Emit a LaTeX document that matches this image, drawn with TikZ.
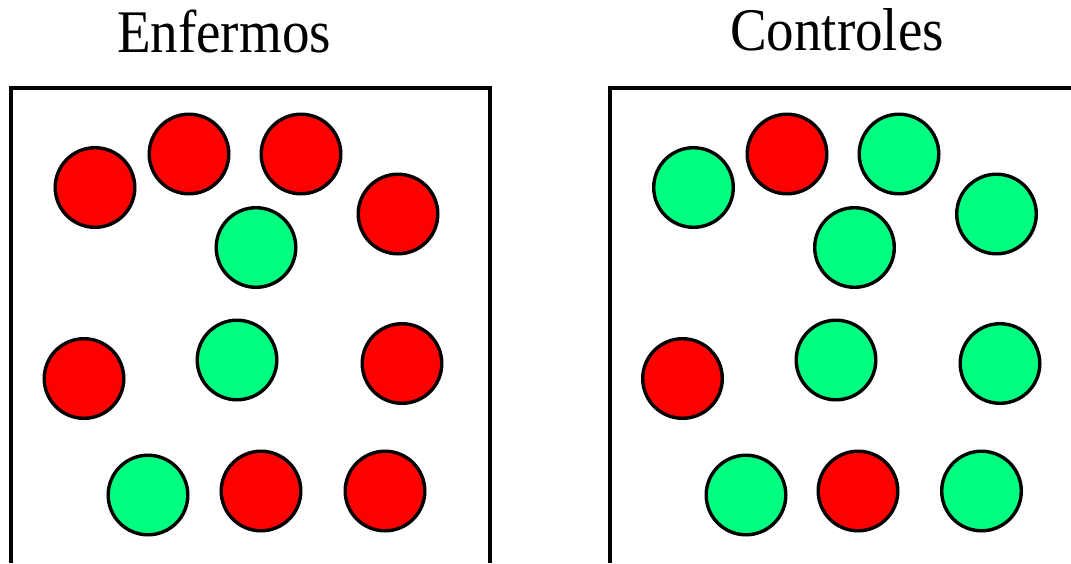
\documentclass[tikz,border=0pt]{standalone}
\usepackage{fontspec}
\setmainfont{Liberation Serif}
\definecolor{sick}{RGB}{255,0,0}
\definecolor{healthy}{RGB}{0,255,128}
\begin{document}
\begin{tikzpicture}[x=1pt,y=-1pt,
  ball/.style={circle,draw=black,line width=3.4pt,inner sep=0pt,minimum size=79.6pt},
  redball/.style={ball,fill=sick},
  greenball/.style={ball,fill=healthy},
  frame/.style={line width=3.6pt},
  title/.style={inner sep=0pt,anchor=base,font=\fontsize{55}{60}\selectfont}]
\useasboundingbox (0,0) rectangle (1071,563);
% titles
\node[title] (t1) at (224,52) {\scalebox{1}[1.1]{Enfermos}};
\node[title] (t2) at (837,50) {\scalebox{1}[1.1]{Controles}};
% frames
\coordinate (a1) at (11,563);
\coordinate (a2) at (11,88);
\coordinate (a3) at (490,88);
\coordinate (a4) at (490,563);
\draw[frame] (a1) -- (a2) -- (a3) -- (a4);
\coordinate (b1) at (610,563);
\coordinate (b2) at (610,88);
\coordinate (b3) at (1071,88);
\draw[frame] (b1) -- (b2) -- (b3);
% left box: Enfermos
\node[redball]   (e1)  at (95,187.5) {};
\node[redball]   (e2)  at (189,154) {};
\node[redball]   (e3)  at (301,154) {};
\node[redball]   (e4)  at (398,214) {};
\node[greenball] (e5)  at (256,247.5) {};
\node[redball]   (e6)  at (84,378.5) {};
\node[greenball] (e7)  at (237,360) {};
\node[redball]   (e8)  at (402,363.5) {};
\node[greenball] (e9)  at (148,495) {};
\node[redball]   (e10) at (261,491) {};
\node[redball]   (e11) at (385,491) {};
% right box: Controles
\node[greenball] (c1)  at (693.5,187.5) {};
\node[redball]   (c2)  at (787,154) {};
\node[greenball] (c3)  at (899,154) {};
\node[greenball] (c4)  at (996.5,214) {};
\node[greenball] (c5)  at (854.5,247.5) {};
\node[redball]   (c6)  at (682.5,378.5) {};
\node[greenball] (c7)  at (836,360) {};
\node[greenball] (c8)  at (1000,363.5) {};
\node[greenball] (c9)  at (746,495) {};
\node[redball]   (c10) at (858,491) {};
\node[greenball] (c11) at (981.5,491) {};
\end{tikzpicture}
\end{document}
